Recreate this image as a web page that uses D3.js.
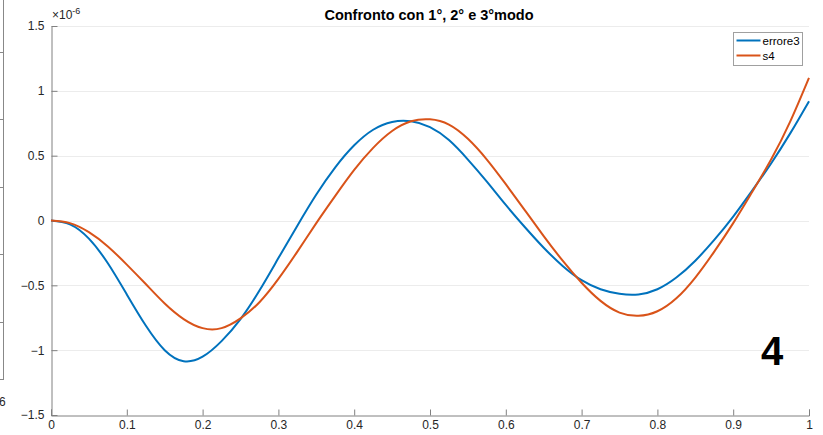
<!DOCTYPE html>
<html>
<head>
<meta charset="utf-8">
<script src="https://cdn.jsdelivr.net/npm/d3@7"></script>
<style>
  body { margin: 0; background: #fff; }
  svg { display: block; font-family: "Liberation Sans", Arial, sans-serif; }
</style>
</head>
<body>
<svg id="chart" width="823" height="435"></svg>
<script>
// x positions (sampled every 0.025)
const xs = [0, 0.025, 0.05, 0.075, 0.1, 0.125, 0.15, 0.175, 0.2, 0.225, 0.25, 0.275, 0.3, 0.325, 0.35, 0.375, 0.4, 0.425, 0.45, 0.475, 0.5,
            0.525, 0.55, 0.575, 0.6, 0.625, 0.65, 0.675, 0.7, 0.725, 0.75, 0.775, 0.8, 0.825, 0.85, 0.875, 0.9, 0.925, 0.95, 0.975, 1];

// values in units of 1e-6
const errore3 = [0, -0.03, -0.14, -0.33, -0.57, -0.81, -1.00, -1.085, -1.05, -0.93, -0.76, -0.54, -0.29, -0.04, 0.20, 0.41, 0.58, 0.70, 0.76, 0.765, 0.72,
                 0.62, 0.47, 0.30, 0.12, -0.05, -0.21, -0.35, -0.46, -0.53, -0.565, -0.57, -0.53, -0.44, -0.31, -0.15, 0.03, 0.23, 0.44, 0.67, 0.92];
const s4 = [0, -0.02, -0.09, -0.20, -0.34, -0.49, -0.64, -0.76, -0.83, -0.83, -0.755, -0.63, -0.45, -0.24, -0.02, 0.19, 0.39, 0.56, 0.69, 0.765, 0.78,
            0.74, 0.63, 0.47, 0.28, 0.08, -0.12, -0.31, -0.48, -0.62, -0.71, -0.735, -0.70, -0.60, -0.44, -0.24, -0.02, 0.22, 0.47, 0.76, 1.10];

const xTicks = [0, 0.1, 0.2, 0.3, 0.4, 0.5, 0.6, 0.7, 0.8, 0.9, 1];
const yTicks = [-1.5, -1, -0.5, 0, 0.5, 1, 1.5];
const seriesNames = ["errore3", "s4"];
const colors = ["#0072BD", "#D95319"];

const svg = d3.select('#chart');

const mLeft = 51, mRight = 809, mTop = 26, mBottom = 415;

const x = d3.scaleLinear().domain([0, 1]).range([mLeft, mRight]);
const y = d3.scaleLinear().domain([-1.5, 1.5]).range([mBottom, mTop]);

// leftover of neighbouring plot at the left edge
const leftTicks = [52, 119, 187, 254, 322];
svg.append('line').attr('x1', 3.5).attr('x2', 3.5).attr('y1', 0).attr('y2', 380)
    .attr('stroke', '#888').attr('stroke-width', 1);
svg.append('line').attr('x1', 0).attr('x2', 3.5).attr('y1', 379.5).attr('y2', 379.5)
    .attr('stroke', '#888');
svg.selectAll('.lt').data(leftTicks).enter().append('line')
    .attr('x1', 0).attr('x2', 3.5).attr('y1', d => d + 0.5).attr('y2', d => d + 0.5)
    .attr('stroke', '#888');
svg.append('text').attr('x', -1).attr('y', 406).attr('font-size', 12).attr('fill', '#262626').text('6');

// horizontal grid
svg.append('g').selectAll('line').data(yTicks.filter(d => d > -1.5)).enter().append('line')
    .attr('x1', mLeft).attr('x2', mRight)
    .attr('y1', d => Math.round(y(d)) + 0.5).attr('y2', d => Math.round(y(d)) + 0.5)
    .attr('stroke', '#ececec').attr('stroke-width', 1);

// axes (ticks pointing inward)
const xAxis = d3.axisBottom(x).tickValues(xTicks).tickSizeInner(-6).tickSizeOuter(-6).tickPadding(5)
    .tickFormat(d3.format('~g'));
const yAxis = d3.axisLeft(y).tickValues(yTicks).tickSizeInner(-6).tickSizeOuter(0).tickPadding(12)
    .tickFormat(d3.format('~g'));

const gx = svg.append('g').attr('transform', `translate(0,${Math.round(mBottom) + 0.5})`).call(xAxis);
const gy = svg.append('g').attr('transform', `translate(${mLeft + 0.5},0)`).call(yAxis);
[gx, gy].forEach(g => {
    g.select('.domain').attr('stroke', '#808080');
    g.selectAll('.tick line').attr('stroke', '#808080');
    g.selectAll('.tick text').attr('fill', '#262626').attr('font-size', 12)
        .attr('font-family', '"Liberation Sans", Arial, sans-serif');
});
gy.selectAll('.tick text').attr('dx', 5);

// exponent label
const expo = svg.append('text').attr('x', mLeft + 1).attr('y', 19).attr('font-size', 12).attr('fill', '#262626');
expo.append('tspan').text('\u00d710');
expo.append('tspan').attr('dy', -5).attr('font-size', 9).text('-6');

// title
svg.append('text').attr('x', 429).attr('y', 20).attr('text-anchor', 'middle')
    .attr('font-size', 14.5).attr('font-weight', 'bold').attr('fill', '#000')
    .text('Confronto con 1°, 2° e 3°modo');

// lines
const line = d3.line().x((d, i) => x(xs[i])).y(d => y(d)).curve(d3.curveNatural);
[errore3, s4].forEach((s, i) => {
    svg.append('path').datum(s).attr('d', line)
        .attr('fill', 'none').attr('stroke', colors[i]).attr('stroke-width', 2);
});

// legend
const lg = svg.append('g').attr('transform', 'translate(733.5,32.5)');
lg.append('rect').attr('width', 69).attr('height', 33).attr('fill', '#fff').attr('stroke', '#a0a0a0');
seriesNames.forEach((n, i) => {
    lg.append('line').attr('x1', 3).attr('x2', 27).attr('y1', 8 + i * 15).attr('y2', 8 + i * 15)
        .attr('stroke', colors[i]).attr('stroke-width', 2);
    lg.append('text').attr('x', 29).attr('y', 12 + i * 15).attr('font-size', 11.5).attr('fill', '#000').text(n);
});

// panel number
svg.append('text').attr('x', 772).attr('y', 365).attr('text-anchor', 'middle')
    .attr('font-size', 40).attr('font-weight', 'bold').attr('font-family', '"Liberation Sans", Arial, sans-serif')
    .attr('fill', '#000').text('4');
</script>
</body>
</html>
